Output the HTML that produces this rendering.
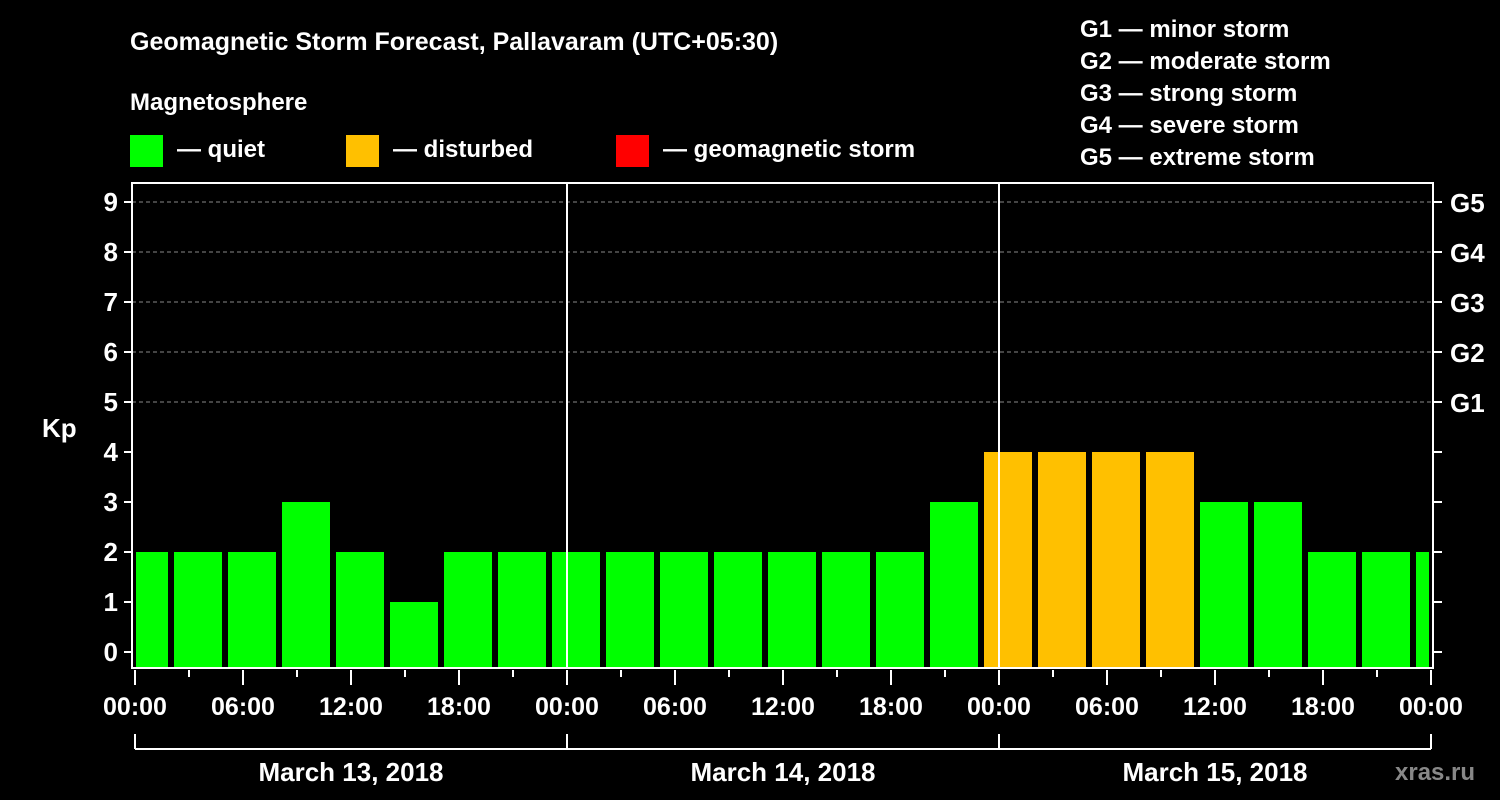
<!DOCTYPE html>
<html><head><meta charset="utf-8"><style>
body{margin:0;background:#000;width:1500px;height:800px;overflow:hidden}
svg{display:block;font-family:"Liberation Sans",Arial,sans-serif;font-weight:bold;fill:#fff}
</style></head><body>
<svg id="c" width="1500" height="800" xmlns="http://www.w3.org/2000/svg">
<text x="130" y="50" font-size="25">Geomagnetic Storm Forecast, Pallavaram (UTC+05:30)</text>
<text x="130" y="110" font-size="24">Magnetosphere</text>
<g><rect x="130" y="135" width="33" height="32" fill="#00ff00"/><text x="177" y="157" font-size="24">— quiet</text></g>
<g><rect x="346" y="135" width="33" height="32" fill="#ffc000"/><text x="393" y="157" font-size="24">— disturbed</text></g>
<g><rect x="616" y="135" width="33" height="32" fill="#ff0000"/><text x="663" y="157" font-size="24">— geomagnetic storm</text></g>
<g font-size="24">
<text x="1080" y="37">G1 — minor storm</text><text x="1080" y="69">G2 — moderate storm</text><text x="1080" y="101">G3 — strong storm</text><text x="1080" y="133">G4 — severe storm</text><text x="1080" y="165">G5 — extreme storm</text>
</g>
<text x="42" y="437" font-size="26">Kp</text>
<text x="1395" y="780" font-size="24" fill="#888" style="fill:#888">xras.ru</text>
<g id="plot"></g>
</svg>
<script>
const kpValues=[2,2,2,3,2,1,2,2,2,2,2,2,2,2,2,3,4,4,4,4,3,3,2,2,2];
const dayLabels=["March 13, 2018","March 14, 2018","March 15, 2018"];
const hourLabels=["00:00","06:00","12:00","18:00"];
const gLabels=["G1","G2","G3","G4","G5"];
const NS="http://www.w3.org/2000/svg";
const L=132,R=1433,T=183,B=668,X0=135,PXH=18;
const xH=h=>X0+h*PXH;
const yK=k=>652-k*50;
const g=document.getElementById('plot');
function el(t,a){const e=document.createElementNS(NS,t);for(const k in a)e.setAttribute(k,a[k]);g.appendChild(e);return e;}
// grid
for(let k=5;k<=9;k++){const e=el('line',{x1:L,x2:R,y1:yK(k),y2:yK(k),stroke:'#888','stroke-dasharray':'4,3','stroke-width':1});

}
// bars
kpValues.forEach((v,i)=>{
 let x1=xH(-1+3*i)+3,x2=x1+48;
 x1=Math.max(x1,L+4);x2=Math.min(x2,R-4);
 const c=v>=5?'#ff0000':(v>=4?'#ffc000':'#00ff00');
 const r=el('rect',{x:x1,y:yK(v),width:x2-x1,height:B-yK(v),fill:c});
 
 
});
// day separators
for(let d=1;d<3;d++){const e=el('line',{x1:xH(24*d),x2:xH(24*d),y1:T,y2:B,stroke:'#fff','stroke-width':2});

}
const fr=el('rect',{x:L,y:T,width:R-L,height:B-T,fill:'none',stroke:'#fff','stroke-width':2});


// y ticks
for(let k=0;k<=9;k++){
 el('line',{x1:L-8,x2:L,y1:yK(k),y2:yK(k),stroke:'#fff','stroke-width':2});
 el('line',{x1:R,x2:R+9,y1:yK(k),y2:yK(k),stroke:'#fff','stroke-width':2});
 const t=el('text',{x:L-14,y:yK(k)+9,'font-size':26,'text-anchor':'end'});t.textContent=k;
 
 
}
gLabels.forEach((s,i)=>{const t=el('text',{x:1450,y:yK(5+i)+10,'font-size':26});t.textContent=s;

});
// x ticks
for(let h=0;h<=72;h+=3){const maj=h%6===0;el('line',{x1:xH(h),x2:xH(h),y1:B+2,y2:B+(maj?17:9),stroke:'#fff','stroke-width':2});}
for(let h=0;h<=72;h+=6){const t=el('text',{x:xH(h),y:715,'font-size':25,'text-anchor':'middle'});t.textContent=hourLabels[(h/6)%4];

}
// day brackets
el('line',{x1:xH(0),x2:xH(72),y1:749,y2:749,stroke:'#fff','stroke-width':2});
for(let d=0;d<=3;d++)el('line',{x1:xH(24*d),x2:xH(24*d),y1:734,y2:749,stroke:'#fff','stroke-width':2});
dayLabels.forEach((s,i)=>{const t=el('text',{x:xH(24*i+12),y:781,'font-size':26,'text-anchor':'middle'});t.textContent=s;

});
</script>
</body></html>
